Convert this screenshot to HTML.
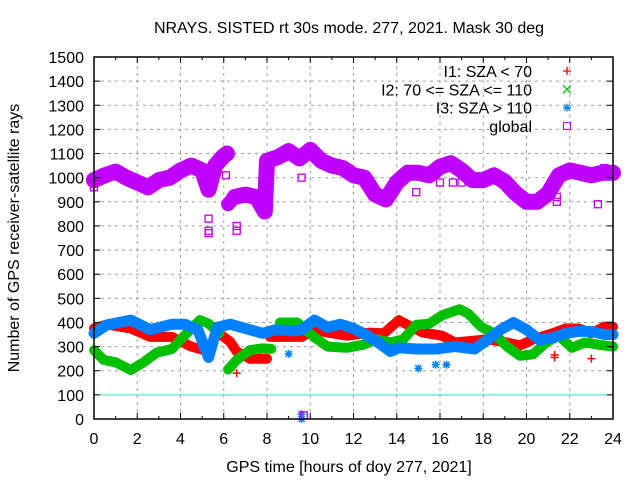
<!DOCTYPE html>
<html><head><meta charset="utf-8"><style>
body{margin:0;background:#fff}
svg text{font-family:"Liberation Sans",sans-serif;font-size:16px;fill:#000}
</style></head><body>
<svg id="chart" width="640" height="480" xmlns="http://www.w3.org/2000/svg">
<rect width="640" height="480" fill="#fff"/>
<g id="grid"></g>
<g id="marks"></g>
<g id="axes"></g>
<text x="349" y="33" text-anchor="middle">NRAYS. SISTED rt 30s mode. 277, 2021. Mask 30 deg</text>
<text x="349" y="472" text-anchor="middle">GPS time [hours of doy 277, 2021]</text>
<text transform="translate(19,238) rotate(-90)" text-anchor="middle">Number of GPS receiver-satellite rays</text>
<g id="legend"></g>
</svg>
<script>
const hours=[0,0.5,1,1.5,2,2.5,3,3.5,4,4.5,5,5.3,5.6,6,6.15,6.2,6.5,7,7.5,7.9,8.0,8.5,9,9.5,10,10.5,11,11.5,12,12.5,13,13.5,14,14.5,15,15.5,16,16.5,17,17.5,18,18.5,19,19.5,20,20.5,21,21.5,22,22.5,23,23.5,24];
const globalVals=[990,1010,1025,1000,980,960,990,1000,1030,1050,1030,950,1050,1090,1100,null,920,930,920,860,1070,1085,1110,1080,1115,1070,1050,1040,1010,1000,930,910,980,1020,1020,1010,1045,1060,1030,990,990,1010,983,935,900,900,935,1010,1030,1020,1010,1020,1020];
const globalHours2=[6.2,6.5,7,7.5,7.9];
const globalVals2=[890,920,930,920,860];
const i1Hours=[0,0.6,1.7,2.6,3.6,4.5,5.3,5.7,6.3,6.6,7.2,8.0,null,8.15,9.6,10.2,10.8,11.7,12.75,13.4,14.1,14.4,15.2,16.1,16.7,17.6,18.2,19.1,19.7,20.3,21.2,21.8,22.4,23.0,23.6,24];
const i1Vals=[375,392,375,340,340,300,280,360,320,280,250,250,null,340,340,370,358,345,358,355,410,395,358,345,317,325,330,317,305,330,355,375,375,355,383,383];
const i2Hours=[0,0.45,1.0,1.7,2.3,2.9,3.6,4.0,4.5,4.9,5.3,5.8,null,6.2,6.6,7.2,7.8,8.2,null,8.6,9.4,10.2,10.8,11.7,12.45,13.1,13.7,14.3,14.9,15.5,16.1,16.9,17.3,17.9,18.5,19.1,19.7,20.3,20.9,21.5,22.1,22.7,23.3,24];
const i2Vals=[285,245,235,203,235,275,290,328,375,410,395,355,null,205,245,285,293,290,null,400,400,338,300,295,308,330,317,330,390,395,430,455,437,382,355,300,262,268,317,345,295,317,308,300];
const i3Hours=[0,0.6,1.7,2.6,3.6,4.2,4.8,5.3,5.7,6.3,7.2,7.8,8.4,9.3,9.6,10.2,10.8,11.4,12.0,12.45,13.1,13.7,14.1,14.9,15.8,16.7,17.6,18.2,18.8,19.4,20.0,20.6,21.2,21.8,22.4,23.0,23.6,24];
const i3Vals=[355,390,410,370,393,393,370,255,380,393,370,355,370,365,370,410,380,393,375,355,320,280,295,290,290,300,290,328,370,400,370,328,336,355,363,363,350,350];
const gOutH=[0,5.3,5.3,5.3,6.1,6.6,6.6,9.6,9.7,14.9,16.0,16.6,17.0,21.4,21.4,23.3,23.6];
const gOutV=[960,830,780,770,1010,800,780,1000,15,940,980,980,980,920,900,890,1040];
const i1OutH=[6.6,21.3,21.3,23.0];
const i1OutV=[190,265,255,250];
const i3OutH=[9.0,9.6,9.6,15.0,15.8,16.3];
const i3OutV=[270,20,0,210,225,225];
const yTicks=[0,100,200,300,400,500,600,700,800,900,1000,1100,1200,1300,1400,1500];
const xTicks=[0,2,4,6,8,10,12,14,16,18,20,22,24];

const X0=94,X1=613,Y0=419,Y1=57;
const xs=h=>X0+(X1-X0)*h/24;
const ys=v=>Y0-(Y0-Y1)*v/1500;
const NS="http://www.w3.org/2000/svg";
function mk(tag,parent){const e=document.createElementNS(NS,tag);parent.appendChild(e);return e;}
const grid=document.getElementById('grid'),axes=document.getElementById('axes'),marks=document.getElementById('marks'),legend=document.getElementById('legend');
yTicks.forEach(v=>{
  if(v>0&&v<1500){const l=mk('line',grid);
  
  
  l.setAttribute('x1',X0);l.setAttribute('x2',X1);l.setAttribute('y1',ys(v));l.setAttribute('y2',ys(v));
  if(v===100){l.setAttribute('stroke','#40d8d8');l.setAttribute('stroke-width','1');}
  else{l.setAttribute('stroke','#a0a0a0');l.setAttribute('stroke-dasharray','3,4');}}
  const t=mk('text',axes);
  
  
  t.setAttribute('x',84);t.setAttribute('y',ys(v)+6);t.setAttribute('text-anchor','end');t.textContent=v;
  [[X0,X0+6],[X1,X1-6]].forEach(p=>{const k=mk('line',axes);k.setAttribute('x1',p[0]);k.setAttribute('x2',p[1]);k.setAttribute('y1',ys(v));k.setAttribute('y2',ys(v));k.setAttribute('stroke','#000');});
});
xTicks.forEach(h=>{
  if(h>0&&h<24){const l=mk('line',grid);
  
  
  l.setAttribute('x1',xs(h));l.setAttribute('x2',xs(h));l.setAttribute('y1',Y0);l.setAttribute('y2',Y1);
  l.setAttribute('stroke','#a0a0a0');l.setAttribute('stroke-dasharray','3,4');}
  const t=mk('text',axes);
  
  
  t.setAttribute('x',xs(h));t.setAttribute('y',444);t.setAttribute('text-anchor','middle');t.textContent=h;
});
for(let h=0;h<=24;h++){[[Y0,Y0-(h%2?3:6)],[Y1,Y1+(h%2?3:6)]].forEach(p=>{const k=mk('line',axes);k.setAttribute('x1',xs(h));k.setAttribute('x2',xs(h));k.setAttribute('y1',p[0]);k.setAttribute('y2',p[1]);k.setAttribute('stroke','#000');});}
const fr=mk('rect',axes);


fr.setAttribute('x',X0);fr.setAttribute('y',Y1);fr.setAttribute('width',X1-X0);fr.setAttribute('height',Y0-Y1);fr.setAttribute('fill','none');fr.setAttribute('stroke','#000');fr.setAttribute('stroke-width','1.5');

function band(H,V,color,w,name){
  let segs=[],cur=[];
  for(let i=0;i<H.length;i++){if(H[i]===null||V[i]===null){if(cur.length)segs.push(cur);cur=[];}else cur.push(xs(H[i]).toFixed(1)+','+ys(V[i]).toFixed(1));}
  if(cur.length)segs.push(cur);
  segs.forEach(s=>{const p=mk('polyline',marks);
    
    
    p.setAttribute('points',s.join(' '));p.setAttribute('fill','none');p.setAttribute('stroke',color);p.setAttribute('stroke-width',w);p.setAttribute('stroke-linejoin','round');p.setAttribute('stroke-linecap','round');});
}
function pts(H,V,color,kind,name){
  H.forEach((h,i)=>{const x=xs(h),y=ys(V[i]);let e;
    if(kind==='sq'){e=mk('rect',marks);e.setAttribute('x',x-3.5);e.setAttribute('y',y-3.5);e.setAttribute('width',7);e.setAttribute('height',7);e.setAttribute('fill','none');e.setAttribute('stroke',color);e.setAttribute('stroke-width','1.3');}
    else{e=mk('path',marks);e.setAttribute('d',kind==='plus'?`M${x-4} ${y}H${x+4}M${x} ${y-4}V${y+4}`:`M${x-4} ${y}H${x+4}M${x} ${y-4}V${y+4}M${x-3} ${y-3}L${x+3} ${y+3}M${x-3} ${y+3}L${x+3} ${y-3}`);e.setAttribute('stroke',color);e.setAttribute('stroke-width','1.5');}
    
    
  });
}
const RED='#ff0000',GREEN='#00c000',BLUE='#0080ff',PURPLE='#c000ff';
band(i1Hours,i1Vals,RED,10,'i1-band');
band(i2Hours,i2Vals,GREEN,10,'i2-band');
band(i3Hours,i3Vals,BLUE,11,'i3-band');
pts(i1OutH,i1OutV,RED,'plus','i1-outlier');
pts(i3OutH,i3OutV,BLUE,'star','i3-outlier');
band(hours,globalVals,PURPLE,16,'global-band');
band(globalHours2,globalVals2,PURPLE,14,'global-band');
pts(gOutH,gOutV,PURPLE,'sq','global-outlier');

const legItems=[['I1: SZA < 70',RED,'plus'],['I2: 70 <= SZA <= 110',GREEN,'x'],['I3: SZA > 110',BLUE,'star'],['global',PURPLE,'sq']];
legItems.forEach((it,i)=>{const y=71+18.3*i;
  const t=mk('text',legend);
  
  
  t.setAttribute('x',532);t.setAttribute('y',y+6);t.setAttribute('text-anchor','end');t.textContent=it[0];
  const x=567;let e;
  if(it[2]==='sq'){e=mk('rect',legend);e.setAttribute('x',x-3.5);e.setAttribute('y',y-3.5);e.setAttribute('width',7);e.setAttribute('height',7);e.setAttribute('fill','none');e.setAttribute('stroke',it[1]);}
  else{e=mk('path',legend);const d=it[2]==='plus'?`M${x-4} ${y}H${x+4}M${x} ${y-4}V${y+4}`:it[2]==='x'?`M${x-4} ${y-4}L${x+4} ${y+4}M${x-4} ${y+4}L${x+4} ${y-4}`:`M${x-4} ${y}H${x+4}M${x} ${y-4}V${y+4}M${x-3} ${y-3}L${x+3} ${y+3}M${x-3} ${y+3}L${x+3} ${y-3}`;e.setAttribute('d',d);e.setAttribute('stroke',it[1]);e.setAttribute('stroke-width','1.3');}
  
  
});
</script>
</body></html>
